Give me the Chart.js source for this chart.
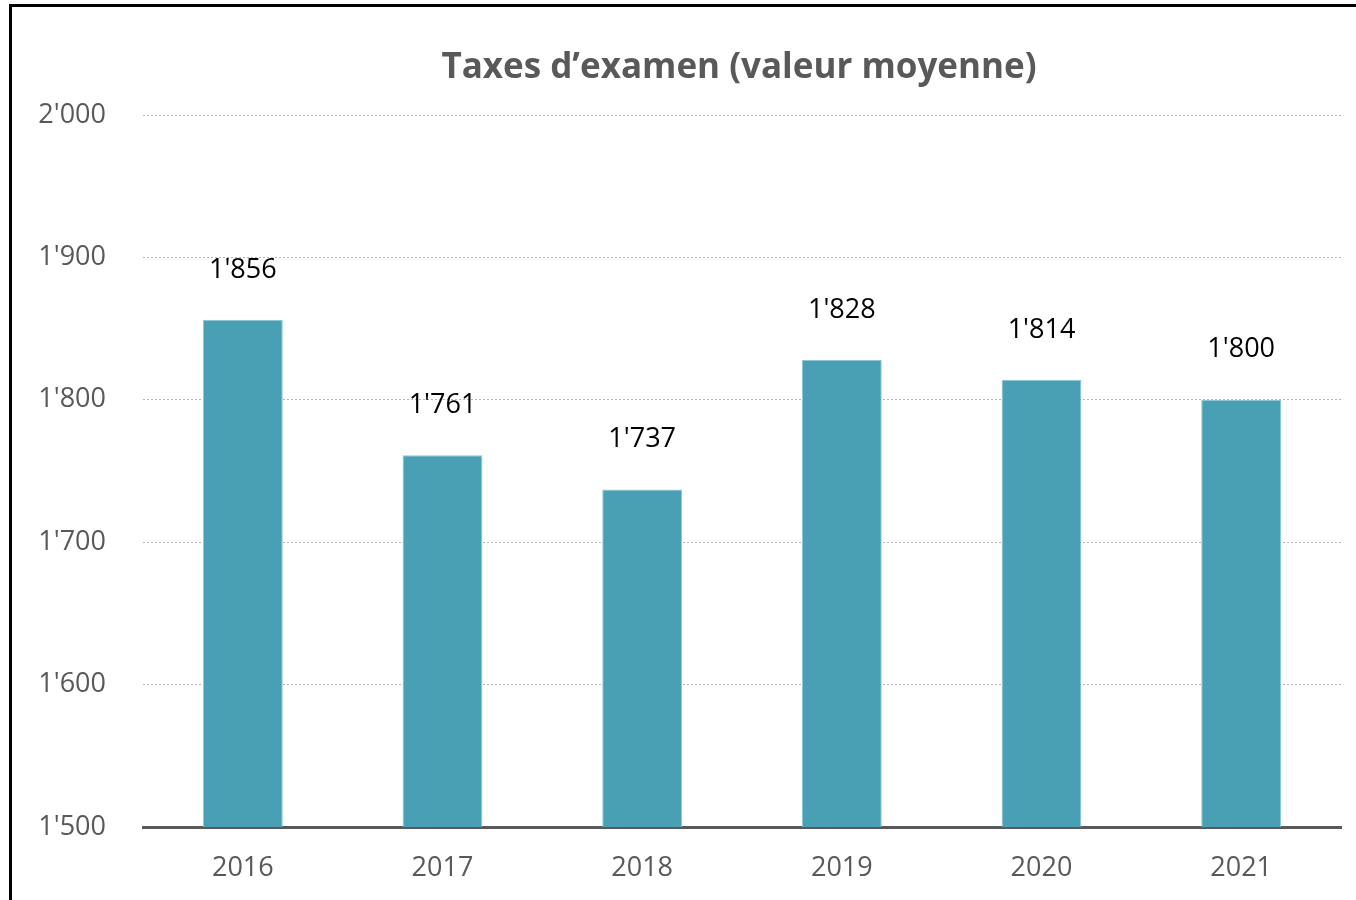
<!DOCTYPE html>
<html>
<head>
<meta charset="utf-8">
<script src="https://cdn.jsdelivr.net/npm/chart.js@4/dist/chart.umd.min.js"></script>
<style>
  html, body { margin: 0; padding: 0; background: #fff; }
  #wrap { position: relative; width: 1356px; height: 900px; }
  #frame { position: absolute; left: 9px; top: 4px; right: 0; bottom: 0; border-top: 3px solid #000; border-left: 3px solid #000; pointer-events: none; }
  canvas { position: absolute; left: 0; top: 0; }
</style>
</head>
<body>
<div id="wrap">
  <canvas id="chart" width="1356" height="900"></canvas>
  <div id="frame"></div>
</div>
<script>
const years = ['2016', '2017', '2018', '2019', '2020', '2021']
const averageFee = [1856, 1761, 1737, 1828, 1814, 1800]
const yTicks = [1500, 1600, 1700, 1800, 1900, 2000]
const chartTitle = 'Taxes d\u2019examen (valeur moyenne)'

const FONT = '"Open Sans", sans-serif'
const GREY = '#595959'

function swiss(n) {
  const s = String(Math.round(n))
  return s.replace(/\B(?=(\d{3})+(?!\d))/g, "'")
}

const titlePlugin = {
  id: 'areaTitle',
  afterDraw(chart) {
    const { ctx, chartArea } = chart
    ctx.save()
    ctx.font = 'bold 35px ' + FONT
    ctx.fillStyle = GREY
    ctx.textAlign = 'center'
    ctx.textBaseline = 'alphabetic'
    ctx.fillText(chartTitle, (chartArea.left + chartArea.right) / 2 - 3, 78)
    ctx.restore()
  },
}

const valueLabels = {
  id: 'valueLabels',
  afterDatasetsDraw(chart) {
    const { ctx } = chart
    const meta = chart.getDatasetMeta(0)
    ctx.save()
    ctx.font = '27px ' + FONT
    ctx.fillStyle = '#000'
    ctx.textAlign = 'center'
    ctx.textBaseline = 'middle'
    meta.data.forEach((bar, i) => {
      ctx.fillText(swiss(averageFee[i]), bar.x, bar.y - 50)
    })
    ctx.restore()
  },
}

new Chart(document.getElementById('chart'), {
  type: 'bar',
  data: {
    labels: years,
    datasets: [{
      data: averageFee,
      backgroundColor: '#49a0b5',
      borderColor: '#8cc6d5',
      borderWidth: 1,
      borderSkipped: 'bottom',
      barPercentage: 0.4,
      categoryPercentage: 1,
    }],
  },
  options: {
    responsive: false,
    animation: false,
    layout: { padding: { top: 115, right: 15, left: 0, bottom: 0 } },
    plugins: {
      legend: { display: false },
      title: { display: false },
      tooltip: { enabled: false },
    },
    scales: {
      x: {
        grid: { display: false },
        border: { display: true, color: GREY, width: 3 },
        ticks: { color: GREY, font: { family: FONT, size: 27 }, padding: 17 },
        afterFit(scale) { scale.height = 73 },
      },
      y: {
        min: 1500,
        max: 2000,
        z: 1,
        afterBuildTicks(scale) { scale.ticks = yTicks.map((v) => ({ value: v })) },
        grid: { color: 'rgba(120,120,120,0.55)', lineWidth: 1, drawTicks: false },
        border: { display: false, dash: [2, 2] },
        ticks: {
          color: GREY,
          font: { family: FONT, size: 27 },
          padding: 37,
          callback: (v) => swiss(v),
        },
        afterFit(scale) { scale.width = 143 },
      },
    },
  },
  plugins: [titlePlugin, valueLabels],
})
</script>
</body>
</html>
